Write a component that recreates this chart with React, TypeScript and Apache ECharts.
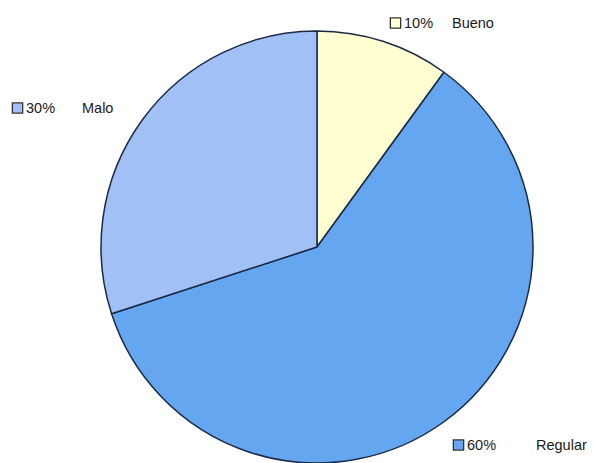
import React, { useEffect, useRef } from "react";
import * as echarts from "echarts";

const categories = ["Bueno", "Regular", "Malo"];
const values = [10, 60, 30];

const colors = ["#FFFFD2", "#64A7F0", "#A0C0F6"];
// label layout (positions are styling, not data)
const labelPos = [
  { x: 391, y: 23, w: 48 },
  { x: 454, y: 445, w: 69 },
  { x: 13, y: 108, w: 56 },
];

export default function App() {
  const ref = useRef<HTMLDivElement>(null);
  useEffect(() => {
    if (!ref.current) return;
    const chart = echarts.init(ref.current, null, { renderer: "svg" });
    const font = "'Liberation Sans', Arial, sans-serif";
    chart.setOption({
      animation: false,
      backgroundColor: "#ffffff",
      series: [
        {
          type: "pie",
          center: [317, 247],
          radius: 216,
          startAngle: 90,
          clockwise: true,
          avoidLabelOverlap: false,
          itemStyle: { borderColor: "#1c2a44", borderWidth: 1.5 },
          emphasis: { disabled: true },
          labelLine: { show: false },
          data: categories.map((name, i) => ({
            name,
            value: values[i],
            itemStyle: { color: colors[i] },
            label: {
              show: true,
              formatter: `{sq|}{pct|${values[i]}%}{nm|${name}}`,
              rich: {
                sq: {
                  width: 9,
                  height: 9,
                  backgroundColor: colors[i],
                  borderColor: "#333333",
                  borderWidth: 1.3,
                },
                pct: {
                  fontFamily: font,
                  fontSize: 14.5,
                  color: "#1a1a1a",
                  width: labelPos[i].w,
                  padding: [0, 0, 0, 4],
                },
                nm: {
                  fontFamily: font,
                  fontSize: 14.5,
                  color: "#1a1a1a",
                },
              },
            },
          })),
          label: { position: "outside" },
          labelLayout: (params: any) => {
            const p = labelPos[params.dataIndex];
            return { x: p.x, y: p.y, align: "left", verticalAlign: "middle", moveOverlap: false };
          },
        },
      ],
    });
    return () => chart.dispose();
  }, []);
  return (
    <div
      ref={ref}
      style={{ position: "fixed", left: 0, top: 0, width: 594, height: 463 }}
    />
  );
}
